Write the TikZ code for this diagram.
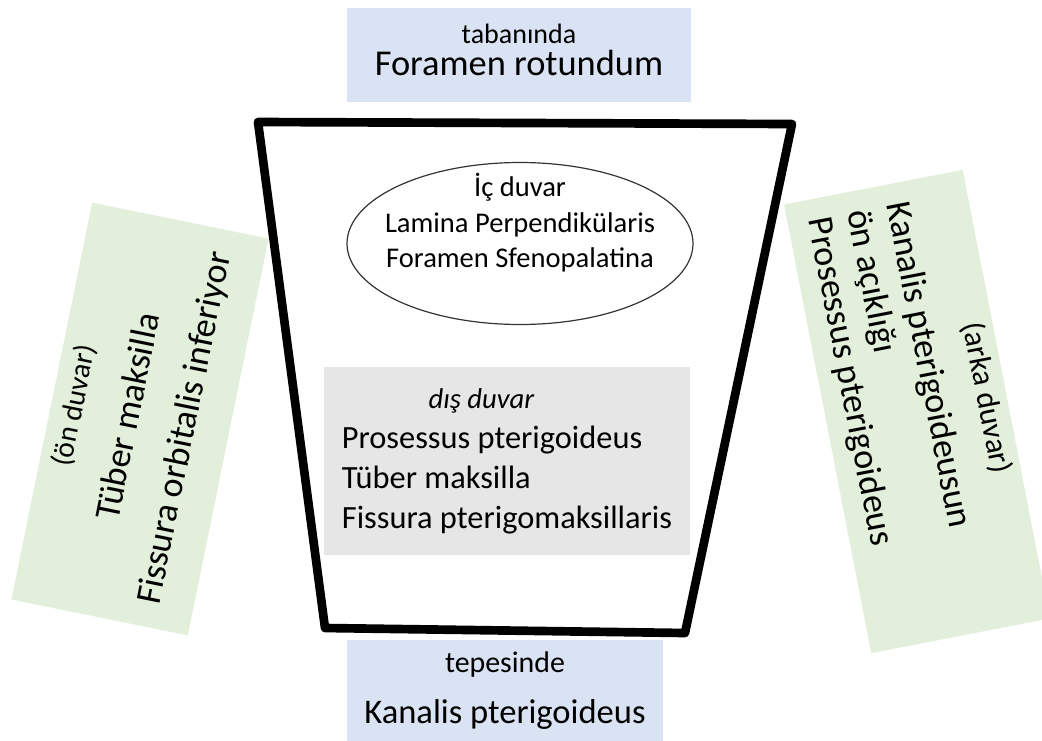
\documentclass[tikz,border=0pt]{standalone}
\usepackage{fontspec}
\setmainfont{Carlito}
\definecolor{boxBlue}{RGB}{218, 227, 243}
\definecolor{boxGreen}{RGB}{226, 239, 218}
\definecolor{boxGray}{RGB}{231, 230, 230}
\usetikzlibrary{shapes.geometric}

\begin{document}
\begin{tikzpicture}[
    x=0.75pt, y=-0.75pt,
    box/.style={rectangle, inner sep=0pt, text depth=0pt},
    wall/.style={box, fill=boxGreen, minimum height=135pt},
  ]
  \useasboundingbox (0,0) rectangle (1042,740);
  % side walls
  \node[wall, rotate=78.5, minimum width=303.75pt, text height=84pt, align=center,
        font=\fontsize{27}{42.75}\selectfont] (FRONT) at (140,419)
    {{\fontsize{22}{26}\selectfont (ön duvar)}\\Tüber maksilla\\Fissura orbitalis inferiyor};
  \node[wall, rotate=-79, minimum width=342.75pt, minimum height=136.5pt,
        text height=105.5pt, align=left,
        font=\fontsize{27}{30}\selectfont] (BACK) at (917,411.5)
    {\makebox[313.5pt]{\fontsize{23.5}{26}\selectfont (arka duvar)}\\[9pt]
     Kanalis pterigoideusun\\ön açıklığı\\Prosessus pterigoideus};
  % base and apex
  \node[box, fill=boxBlue, minimum width=258pt, minimum height=70.5pt, text height=30pt,
        align=center, font=\fontsize{27.3}{24}\selectfont] (BASE) at (519,55)
    {{\fontsize{21}{24}\selectfont tabanında}\\Foramen rotundum};
  \node[box, fill=boxBlue, minimum width=237pt, minimum height=78.75pt, text height=45.75pt,
        align=center, font=\fontsize{25.9}{38.25}\selectfont] (APEX) at (505,692.5)
    {{\fontsize{22.4}{26}\selectfont tepesinde}\\Kanalis pterigoideus};
  % fossa outline
  \draw[line width=6.5pt, line join=round] (258,122) -- (792,124) -- (685,633) -- (325,628) -- cycle;
  % medial wall
  \draw[black!80, line width=0.9pt] (520,243.5) ellipse [x radius=173, y radius=81];
  \node[align=center, font=\fontsize{21.4}{26.6}\selectfont] (INNER) at (520,223)
    {İç duvar\\Lamina Perpendikülaris\\Foramen Sfenopalatina};
  % lateral wall
  \node[box, fill=boxGray, minimum width=274.5pt, minimum height=141pt, text height=100.5pt,
        align=left, font=\fontsize{24.3}{30}\selectfont] (OUTER) at (507,461)
    {\hspace*{65pt}{\itshape\fontsize{21.5}{30}\selectfont dış duvar}\\Prosessus pterigoideus\\Tüber maksilla\\Fissura pterigomaksillaris};
\end{tikzpicture}
\end{document}
